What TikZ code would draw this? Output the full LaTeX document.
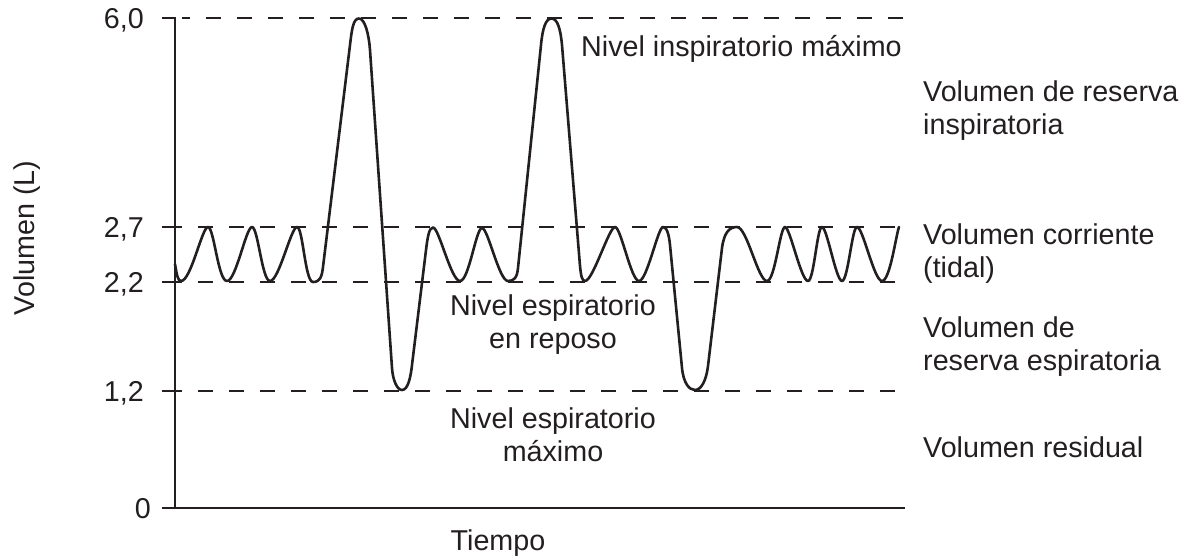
\documentclass[tikz,border=0pt]{standalone}
\usepackage{fontspec}
\setmainfont{Liberation Sans}
\definecolor{ink}{RGB}{35,31,32}
\begin{document}
\begin{tikzpicture}[x=1pt,y=-1pt,
  lbl/.style={inner sep=0pt, text=ink, font=\fontsize{28.7}{33}\selectfont},
  axisline/.style={draw=ink, line width=2pt},
  levelline/.style={draw=ink, line width=2pt, dash pattern=on 15pt off 16pt},
  curve/.style={draw=ink, line width=2.6pt, line join=round, line cap=round}]
\useasboundingbox (0,0) rectangle (1191,558);
% axes
\coordinate (top) at (175,18.3);
\coordinate (origin) at (175,508);
\coordinate (xend) at (905,508);
\draw[axisline] (162,18.3) -- (top) -- (origin) -- (xend);
\draw[axisline] (162,508) -- (origin);
\foreach \yy in {227,282,391}{\draw[axisline] (162,\yy) -- (182,\yy);}
% level lines
\draw[levelline, dash phase=7pt] (182,18.3) -- (905,18.3);
\foreach \yy in {227,282,391}{\draw[levelline] (198,\yy) -- (905,\yy);}
% curve
\draw[curve] (175,264)
 .. controls +(2,12) and +(-3,0) .. (181,281)
 .. controls +(10,0) and +(-6,0) .. (208,227)
 .. controls +(6,0) and +(-9,0) .. (227,281)
 .. controls +(9,0) and +(-6,0) .. (252,227)
 .. controls +(6,0) and +(-8,0) .. (270,281)
 .. controls +(9,0) and +(-6,0) .. (297,227)
 .. controls +(6,0) and +(-8,0) .. (313,282)
 .. controls +(7,0) and +(-1.2,10) .. (323,267)
 -- (350,45)
 .. controls +(1.8,-15) and +(-6,0) .. (359,18.5)
 .. controls +(6,0) and +(-1,-15) .. (370,50)
 -- (392,368)
 .. controls +(0.8,12) and +(-5,0) .. (402,390)
 .. controls +(6,0) and +(-1.3,12) .. (412,365)
 -- (426,250)
 .. controls +(1.5,-12) and +(-4,0) .. (433,227.5)
 .. controls +(6,0) and +(-9,0) .. (460,281)
 .. controls +(9,0) and +(-6,0) .. (482,228)
 .. controls +(6,0) and +(-9,0) .. (508,281)
 .. controls +(6,0) and +(-1,10) .. (518,268)
 -- (541,45)
 .. controls +(1.5,-16) and +(-6,0) .. (551.5,18.5)
 .. controls +(6,0) and +(-1.5,-16) .. (562,45)
 -- (580,266)
 .. controls +(1,10) and +(-3,0) .. (585,281)
 .. controls +(8,0) and +(-6,0) .. (615,227)
 .. controls +(6,0) and +(-8,0) .. (639,281)
 .. controls +(8,0) and +(-5,0) .. (663,227)
 .. controls +(4,0) and +(-1,-10) .. (670,245)
 -- (682,368)
 .. controls +(1.5,15) and +(-6,0) .. (695,390)
 .. controls +(6,0) and +(-1.8,15) .. (708,366)
 -- (722,248)
 .. controls +(2,-15) and +(-8,0) .. (737,227)
 .. controls +(10,0) and +(-9,0) .. (767,281)
 .. controls +(8,0) and +(-5,0) .. (785,227)
 .. controls +(5,0) and +(-7,0) .. (808,281)
 .. controls +(6,0) and +(-5,0) .. (822,227)
 .. controls +(5,0) and +(-6,0) .. (842,281)
 .. controls +(6,0) and +(-5,0) .. (857,227)
 .. controls +(6,0) and +(-8,0) .. (882,281)
 .. controls +(8,0) and +(-3,8) .. (899,227);
% y labels
\node[lbl, anchor=base east] (l60) at (144,28.5) {6,0};
\node[lbl, anchor=base east] (l27) at (144,237.5) {2,7};
\node[lbl, anchor=base east] (l22) at (144,292.5) {2,2};
\node[lbl, anchor=base east] (l12) at (144,401.5) {1,2};
\node[lbl, anchor=base east] (l0) at (151,518.5) {0};
\node[lbl, rotate=90] (ylab) at (27,238) {Volumen (L)};
\node[lbl, anchor=base] (xlab) at (498,550) {Tiempo};
% level labels
\node[lbl, anchor=base west] (nim) at (581,56) {Nivel inspiratorio máximo};
\node[lbl, anchor=base, align=center] (ner) at (553,348) {Nivel espiratorio\\en reposo};
\node[lbl, anchor=base, align=center] (nem) at (553,461) {Nivel espiratorio\\máximo};
% volume labels
\node[lbl, anchor=base west, align=left] (vri) at (923,134) {Volumen de reserva\\inspiratoria};
\node[lbl, anchor=base west, align=left] (vc) at (923,277) {Volumen corriente\\(tidal)};
\node[lbl, anchor=base west, align=left] (vre) at (923,370) {Volumen de\\reserva espiratoria};
\node[lbl, anchor=base west] (vr) at (923,457) {Volumen residual};
\end{tikzpicture}
\end{document}
